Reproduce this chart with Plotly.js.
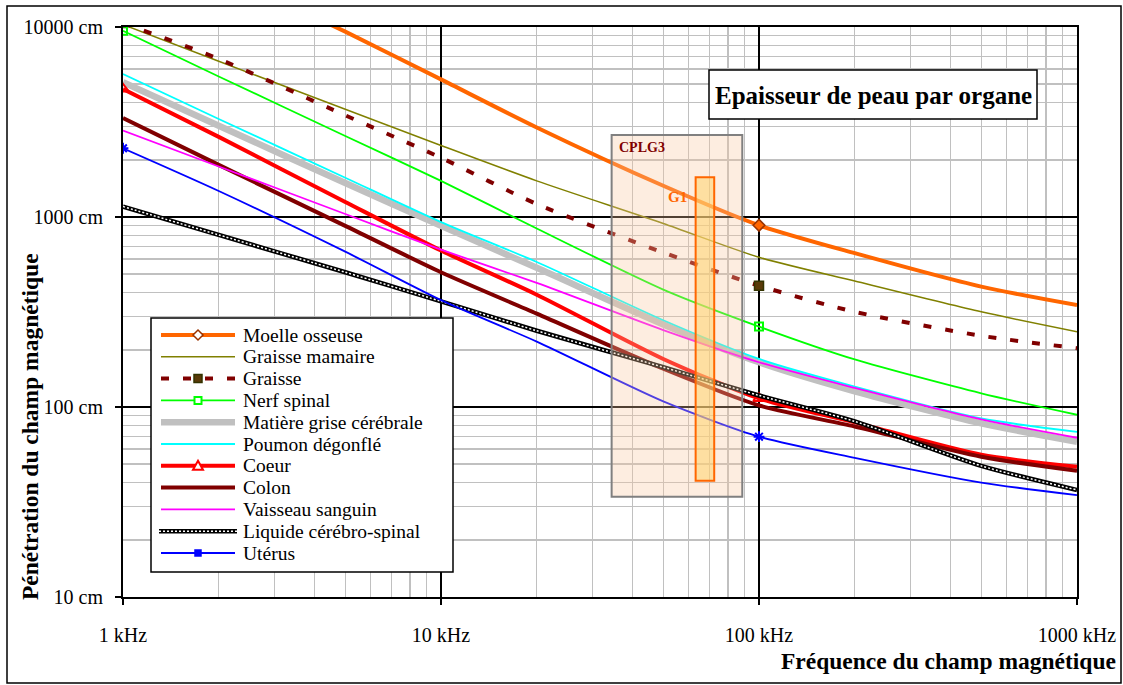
<!DOCTYPE html>
<html><head><meta charset="utf-8">
<script src="https://cdn.plot.ly/plotly-3.0.1.min.js"></script>
<style>html,body{margin:0;padding:0;background:#fff}#chart{width:1123px;height:685px}</style>
</head><body><div id="chart"></div>
<script>
// ---------- DATA ----------
const freqKHz = [1, 2, 5, 10, 20, 50, 100, 200, 500, 1000];
const seriesNames = ['Moelle osseuse','Graisse mamaire','Graisse','Nerf spinal','Matière grise cérébrale','Poumon dégonflé','Coeur','Colon','Vaisseau sanguin','Liquide cérébro-spinal','Utérus'];
const moelleOsseuse = [34000, 19500, 9450, 5300, 2960, 1460, 905, 645, 430, 344];
const graisseMamaire = [10300, 6600, 3690, 2380, 1550, 925, 614, 460, 317, 249];
const graisse = [10500, 6790, 3430, 2050, 1170, 650, 435, 317, 237, 204];
const nerfSpinal = [9560, 5490, 2670, 1550, 870, 415, 265, 178, 118, 91];
const matiereGrise = [5120, 3020, 1510, 898, 540, 272, 172, 121, 82, 65.6];
const poumonDegonfle = [5650, 3280, 1610, 940, 580, 286, 179, 128, 87, 74];
const coeur = [4720, 2640, 1200, 666, 390, 179, 111, 83, 56, 48.5];
const colon = [3320, 1880, 898, 512, 310, 159, 102, 79, 54.7, 46.2];
const vaisseauSanguin = [2850, 1844, 1037, 673, 450, 254, 172, 126, 86, 68.9];
const liquideCerebroSpinal = [1135, 805, 512, 360, 252, 162, 115, 84, 49, 36.6];
const uterus = [2300, 1371, 657, 365, 221, 107, 69.8, 54, 40, 34.4];
const xTickVals = [1, 10, 100, 1000];
const xTickText = ['1 kHz', '10 kHz', '100 kHz', '1000 kHz'];
const yTickVals = [10, 100, 1000, 10000];
const yTickText = ['10 cm', '100 cm', '1000 cm', '10000 cm'];
const chartTitle = 'Epaisseur de peau par organe';
const xTitle = 'Fréquence du champ magnétique';
const yTitle = 'Pénétration du champ magnétique';
const zoneCPLG3 = {label: 'CPLG3', fMin: 34.4, fMax: 88.6, dMin: 33.7, dMax: 2700};
const zoneG1 = {label: 'G1', fMin: 63.2, fMax: 72.3, dMin: 40.9, dMax: 1620};

// ---------- STYLES ----------
const FONT = '"Liberation Serif", "Times New Roman", Times, serif';
const valuesList = [moelleOsseuse, graisseMamaire, graisse, nerfSpinal, matiereGrise, poumonDegonfle, coeur, colon, vaisseauSanguin, liquideCerebroSpinal, uterus];
const styles = [
  {color:'#ff6600', width:4, marker:{symbol:'diamond', size:9, color:'#ff6600', line:{color:'#993300', width:1.5}}, lm:'diamond'},
  {color:'#808000', width:1.5},
  {color:'#800000', width:4, dash:'8px,14px', marker:{symbol:'square', size:9, color:'#5a3a08', line:{color:'#333300', width:1.5}}, lm:'squareFill'},
  {color:'#00ff00', width:1.8, marker:{symbol:'square-open', size:8, color:'#00ff00', line:{width:2}}, lm:'squareOpen'},
  {color:'#c0c0c0', width:6.5},
  {color:'#00ffff', width:1.8},
  {color:'#ff0000', width:4, marker:{symbol:'triangle-up-open', size:10, color:'#ff0000', line:{width:2}}, lm:'triangle'},
  {color:'#800000', width:4},
  {color:'#ff00ff', width:1.8},
  {color:'#000000', width:4.5, overlay:true},
  {color:'#0000ff', width:1.8, marker:{symbol:'asterisk-open', size:9, color:'#0000ff', line:{color:'#0000ff', width:2}}, lm:'smallSquare'}
];
const markerAt = f => (f === 1 || f === 100);

const traces = [];
valuesList.forEach((vals, i) => {
  const st = styles[i];
  const t = {
    type:'scatter', x: freqKHz, y: vals, name: seriesNames[i], showlegend:false,
    mode: st.marker ? 'lines+markers' : 'lines',
    line:{color: st.color, width: st.width, shape:'spline', smoothing:0.7, dash: st.dash || 'solid'},
    hoverinfo:'x+y+name'
  };
  if (st.marker) {
    t.marker = Object.assign({}, st.marker, {
      size: freqKHz.map(f => markerAt(f) ? st.marker.size : 0),
      opacity: freqKHz.map(f => markerAt(f) ? 1 : 0)
    });
  }
  traces.push(t);
  if (st.overlay) {
    traces.push({type:'scatter', x: freqKHz, y: vals, mode:'lines', showlegend:false, hoverinfo:'skip',
      line:{color:'#ffffff', width:1.5, dash:'2px,2px', shape:'spline', smoothing:0.7}});
  }
});

// ---------- LAYOUT HELPERS ----------
const L = 123, T = 27, W = 954, H = 570;
const P = px => (px - L) / W;
const Q = py => (T + H - py) / H;

const minorVals = [];
for (let k = 0; k < 4; k++) for (let d = 2; d <= 9; d++) minorVals.push(d * Math.pow(10, k));

const shapes = [];
const annotations = [];

// zones
shapes.push({type:'rect', xref:'x', yref:'y', x0: zoneCPLG3.fMin, x1: zoneCPLG3.fMax, y0: zoneCPLG3.dMin, y1: zoneCPLG3.dMax,
  fillcolor:'rgba(250,200,160,0.32)', line:{color:'#808080', width:2}, layer:'above'});
shapes.push({type:'rect', xref:'x', yref:'y', x0: zoneG1.fMin, x1: zoneG1.fMax, y0: zoneG1.dMin, y1: zoneG1.dMax,
  fillcolor:'rgba(255,212,110,0.55)', line:{color:'#ff6600', width:2}, layer:'above'});
annotations.push({xref:'paper', yref:'paper', x:P(617), y:Q(147), xanchor:'left', yanchor:'middle', showarrow:false,
  text:'<b>'+zoneCPLG3.label+'</b>', font:{family:FONT, size:14, color:'#800000'}});
annotations.push({xref:'paper', yref:'paper', x:P(677), y:Q(197), xanchor:'center', yanchor:'middle', showarrow:false,
  text:'<b>'+zoneG1.label+'</b>', font:{family:FONT, size:15, color:'#ff6600'}});

// title box
shapes.push({type:'rect', xref:'paper', yref:'paper', x0:P(709), x1:P(1037), y0:Q(119), y1:Q(70),
  fillcolor:'#ffffff', line:{color:'#000', width:1.5}, layer:'above'});
annotations.push({xref:'paper', yref:'paper', x:P(873), y:Q(95), xanchor:'center', yanchor:'middle', showarrow:false,
  text:'<b>'+chartTitle+'</b>', font:{family:FONT, size:25, color:'#000'}});

// legend box
shapes.push({type:'rect', xref:'paper', yref:'paper', x0:P(151), x1:P(453), y0:Q(572), y1:Q(318),
  fillcolor:'#ffffff', line:{color:'#000', width:1.5}, layer:'above'});
const legTop = 335, legStep = 21.8, lx0 = 161, lx1 = 235, lmx = 198;
const markerPaths = {
  diamond: 'M0,5 L5,0 L0,-5 L-5,0 Z',
  squareFill: 'M-4,-4 L4,-4 L4,4 L-4,4 Z',
  squareOpen: 'M-3.5,-3.5 L3.5,-3.5 L3.5,3.5 L-3.5,3.5 Z',
  triangle: 'M0,5 L5,-4 L-5,-4 Z',
  smallSquare: 'M-3,-3 L3,-3 L3,3 L-3,3 Z'
};
seriesNames.forEach((name, i) => {
  const st = styles[i];
  const yc = legTop + i * legStep;
  const extra = st.overlay ? 2 : 0;
  shapes.push({type:'line', xref:'paper', yref:'paper', x0:P(lx0 - extra), x1:P(lx1 + extra), y0:Q(yc), y1:Q(yc),
    line:{color: st.color, width: st.width, dash: st.dash || 'solid'}, layer:'above'});
  if (st.overlay) {
    shapes.push({type:'line', xref:'paper', yref:'paper', x0:P(lx0 - extra), x1:P(lx1 + extra), y0:Q(yc), y1:Q(yc),
      line:{color:'#ffffff', width:1.5, dash:'2px,2px'}, layer:'above'});
  }
  if (st.lm) {
    const open = (st.lm === 'squareOpen' || st.lm === 'triangle');
    const mline = st.marker.line && st.marker.line.color ? st.marker.line.color : st.color;
    let fill = open ? '#ffffff' : st.marker.color;
    if (st.lm === 'diamond') fill = '#ffffff';
    shapes.push({type:'path', xref:'paper', yref:'paper', xsizemode:'pixel', ysizemode:'pixel',
      xanchor:P(lmx), yanchor:Q(yc), path: markerPaths[st.lm], fillcolor: fill,
      line:{color: st.lm === 'diamond' ? '#993300' : mline, width: open ? 2 : 1.5}, layer:'above'});
  }
  annotations.push({xref:'paper', yref:'paper', x:P(242), y:Q(yc), xanchor:'left', yanchor:'middle', showarrow:false,
    text: name, font:{family:FONT, size:19.5, color:'#000'}, borderpad:0});
});

// axis titles
annotations.push({xref:'paper', yref:'paper', x:P(1118), y:Q(661), xanchor:'right', yanchor:'middle', showarrow:false,
  text:'<b>'+xTitle+'</b>', font:{family:FONT, size:23.5, color:'#000'}});
annotations.push({xref:'paper', yref:'paper', x:P(30), y:Q(427), xanchor:'center', yanchor:'middle', showarrow:false, textangle:-90,
  text:'<b>'+yTitle+'</b>', font:{family:FONT, size:23.5, color:'#000'}});

// outer frame
shapes.push({type:'rect', xref:'paper', yref:'paper', x0:P(7), x1:P(1121), y0:Q(683), y1:Q(6),
  fillcolor:'rgba(0,0,0,0)', line:{color:'#000', width:1.5}, layer:'above'});

const axisCommon = {
  type:'log', showline:true, linecolor:'#000', linewidth:2, mirror:true,
  ticks:'outside', ticklen:6, tickwidth:1.5, tickcolor:'#000',
  showgrid:true, gridcolor:'#000', gridwidth:1.5, zeroline:false,
  tickfont:{family:FONT, size:20, color:'#000'},
  minor:{tickvals: minorVals, showgrid:true, gridcolor:'#c0c0c0', gridwidth:1.5, ticks:''}
};

const layout = {
  width:1123, height:685,
  margin:{l:L, r:1123 - L - W, t:T, b:685 - T - H},
  paper_bgcolor:'#ffffff', plot_bgcolor:'#ffffff',
  showlegend:false,
  xaxis: Object.assign({}, axisCommon, {range:[0, 3], tickmode:'array', tickvals:xTickVals, ticktext:xTickText, ticklabelstandoff:13}),
  yaxis: Object.assign({}, axisCommon, {range:[1, 4], tickmode:'array', tickvals:yTickVals, ticktext:yTickText, ticklabelstandoff:8}),
  shapes: shapes,
  annotations: annotations
};

Plotly.newPlot('chart', traces, layout, {displayModeBar:false, staticPlot:true});
</script>
</body></html>
